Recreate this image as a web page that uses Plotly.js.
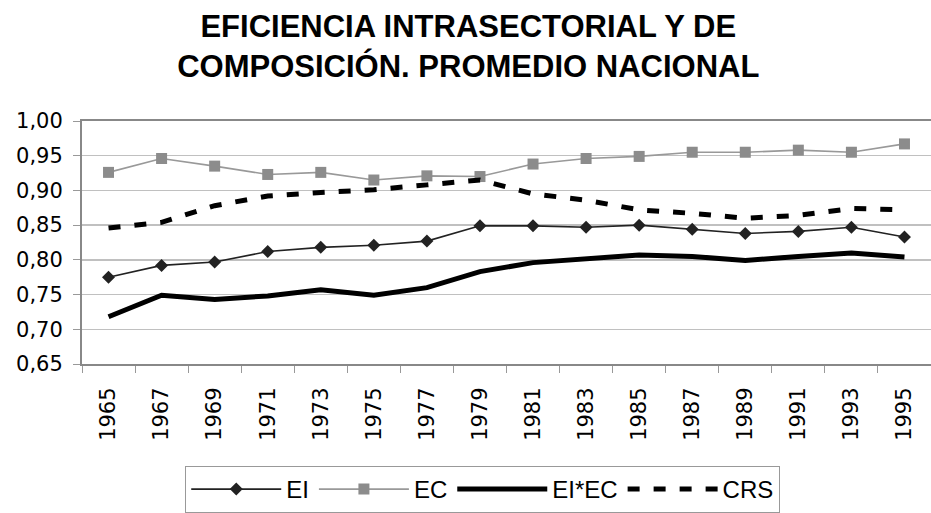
<!DOCTYPE html>
<html>
<head>
<meta charset="utf-8">
<script src="https://cdn.plot.ly/plotly-3.0.1.min.js"></script>
<style>html,body{margin:0;padding:0;background:#fff;}#chart{width:931px;height:513px;}</style>
</head>
<body>
<div id="chart"></div>
<script>
const years = ["1965","1967","1969","1971","1973","1975","1977","1979","1981","1983","1985","1987","1989","1991","1993","1995"];
const ei    = [0.775,0.792,0.797,0.812,0.818,0.821,0.827,0.849,0.849,0.847,0.850,0.844,0.838,0.841,0.847,0.833];
const ec    = [0.926,0.946,0.935,0.923,0.926,0.915,0.921,0.920,0.938,0.946,0.949,0.955,0.955,0.958,0.955,0.967];
const eiec  = [0.718,0.749,0.743,0.748,0.757,0.749,0.760,0.783,0.796,0.801,0.807,0.805,0.799,0.805,0.810,0.804];
const crs   = [0.846,0.854,0.878,0.892,0.897,0.901,0.908,0.915,0.895,0.886,0.872,0.867,0.860,0.864,0.874,0.872];
const yTicks = [0.65,0.70,0.75,0.80,0.85,0.90,0.95,1.00];
const yTickText = yTicks.map(v => v.toFixed(2).replace('.', ','));

const FONT = "Liberation Sans, Arial, sans-serif";
const TICKFONT = "DejaVu Sans, sans-serif";
const traces = [
  {x: years, y: ei, name: "EI", type: "scatter", mode: "lines+markers",
   line: {color: "#222222", width: 1.6}, marker: {symbol: "diamond", size: 10, color: "#222222"}},
  {x: years, y: ec, name: "EC", type: "scatter", mode: "lines+markers",
   line: {color: "#999999", width: 1.6}, marker: {symbol: "square", size: 11, color: "#8c8c8c"}},
  {x: years, y: eiec, name: "EI*EC", type: "scatter", mode: "lines",
   line: {color: "#000000", width: 5}},
  {x: years, y: crs, name: "CRS", type: "scatter", mode: "lines",
   line: {color: "#000000", width: 5, dash: "12px,14px"}}
];

const layout = {
  width: 931, height: 513,
  paper_bgcolor: "#ffffff", plot_bgcolor: "#ffffff",
  font: {family: FONT, color: "#000000", size: 18},
  margin: {l: 82, r: 0, t: 121, b: 149},
  title: {text: "EFICIENCIA INTRASECTORIAL Y DE<br>COMPOSICIÓN. PROMEDIO NACIONAL",
          font: {family: FONT, size: 31, color: "#000000", weight: "bold"},
          x: 0.503, xref: "container", xanchor: "center",
          y: 0.928, yref: "container", yanchor: "top"},
  xaxis: {type: "category", tickangle: -90, tickson: "boundaries",
          ticks: "outside", ticklen: 7, tickcolor: "#999999",
          showline: true, linecolor: "#888888", linewidth: 2, mirror: true,
          showgrid: false, tickfont: {size: 21, family: TICKFONT, color: "#000000"}, ticklabelstandoff: 13,
          range: [-0.5, 15.5]},
  yaxis: {range: [0.65, 1.0], tickvals: yTicks, ticktext: yTickText,
          ticks: "outside", ticklen: 7, tickcolor: "#999999",
          showline: true, linecolor: "#888888", linewidth: 2, mirror: true,
          showgrid: true, gridcolor: "#c0c0c0", gridwidth: 1.5,
          zeroline: false, tickfont: {size: 21, family: TICKFONT, color: "#000000"}, ticklabelstandoff: 6},
  legend: {orientation: "h", x: 0.472, xanchor: "center", y: -0.42, yanchor: "top",
           bordercolor: "#999999", borderwidth: 1, font: {size: 24, family: FONT},
           itemwidth: 90, tracegroupgap: 0},
  showlegend: true
};

Plotly.newPlot("chart", traces, layout, {displayModeBar: false, staticPlot: true});
</script>
</body>
</html>
